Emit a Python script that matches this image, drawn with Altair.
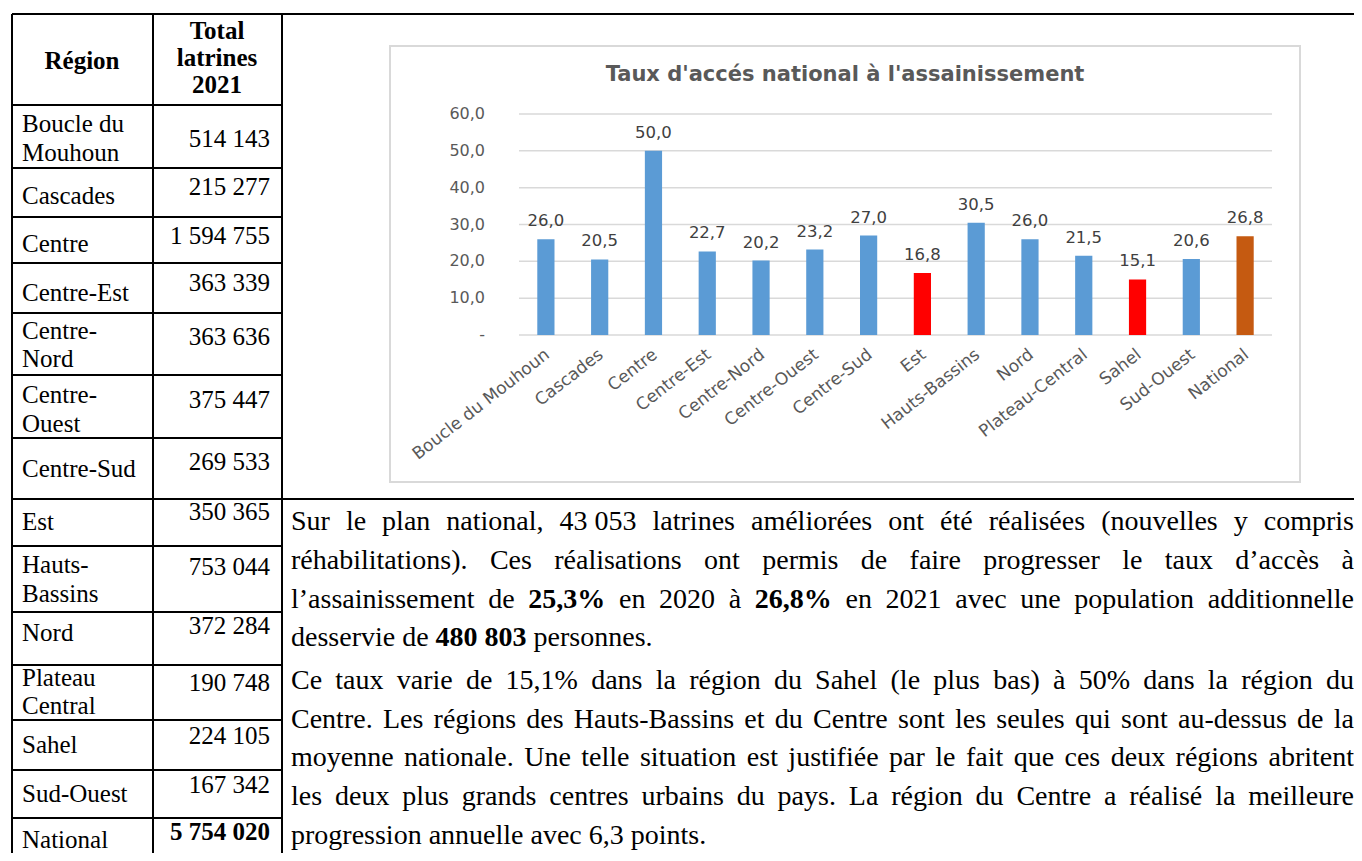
import altair as alt
import pandas as pd

# ------------------------------------------------------------------ data
regions = ["Boucle du Mouhoun", "Cascades", "Centre", "Centre-Est", "Centre-Nord",
           "Centre-Ouest", "Centre-Sud", "Est", "Hauts-Bassins", "Nord",
           "Plateau-Central", "Sahel", "Sud-Ouest", "National"]
taux = [26.0, 20.5, 50.0, 22.7, 20.2, 23.2, 27.0, 16.8, 30.5, 26.0, 21.5, 15.1, 20.6, 26.8]
groupe = ["Région", "Région", "Région", "Région", "Région", "Région", "Région",
          "Faible", "Région", "Région", "Région", "Faible", "Région", "National"]
y_ticks = [0, 10, 20, 30, 40, 50, 60]
y_tick_labels = ["-", "10,0", "20,0", "30,0", "40,0", "50,0", "60,0"]
chart_title = "Taux d'accés national à l'assainissement"

header_region = "Région"
header_total = ["Total", "latrines", "2021"]
table_regions = [["Boucle du", "Mouhoun"], ["Cascades"], ["Centre"], ["Centre-Est"],
                 ["Centre-", "Nord"], ["Centre-", "Ouest"], ["Centre-Sud"], ["Est"],
                 ["Hauts-", "Bassins"], ["Nord"], ["Plateau", "Central"], ["Sahel"],
                 ["Sud-Ouest"], ["National"]]
table_totals = ["514 143", "215 277", "1 594 755", "363 339", "363 636", "375 447",
                "269 533", "350 365", "753 044", "372 284", "190 748", "224 105",
                "167 342", "5 754 020"]
total_bold = [False] * 13 + [True]

# paragraph: list of lines, each a list of (text, bold); flag = justified line
paragraph = [
    ([("Sur le plan national, 43\u00a0053 latrines améliorées ont été réalisées (nouvelles y compris", False)], True),
    ([("réhabilitations). Ces réalisations ont permis de faire progresser le taux d’accès à", False)], True),
    ([("l’assainissement de ", False), ("25,3%", True), (" en 2020 à ", False), ("26,8%", True),
      (" en 2021 avec une population additionnelle", False)], True),
    ([("desservie de ", False), ("480\u00a0803", True), (" personnes.", False)], False),
    ([("Ce taux varie de 15,1% dans la région du Sahel (le plus bas) à 50% dans la région du", False)], True),
    ([("Centre. Les régions des Hauts-Bassins et du Centre sont les seules qui sont au-dessus de la", False)], True),
    ([("moyenne nationale. Une telle situation est justifiée par le fait que ces deux régions abritent", False)], True),
    ([("les deux plus grands centres urbains du pays. La région du Centre a réalisé la meilleure", False)], True),
    ([("progression annuelle avec 6,3 points.", False)], False),
]

# ------------------------------------------------------------------ layout
M = 8  # page margin


def c(v):
    return v - M


W, H = 1346, 845
row_lines_y = [105, 168, 217, 263, 313, 375, 438, 499, 546, 612, 665, 720, 770, 818]
name_y = [[124, 153], [196], [244], [293], [331, 359], [395, 424], [469], [522],
          [565, 594], [633], [678, 706], [745], [794], [840]]
total_y = [139, 187, 236, 283, 337, 400, 462, 512, 567, 626, 683, 736, 785, 832]
para_y = [522, 561, 600, 638, 681, 720, 758, 797, 836]
PARA_X0, PARA_X1 = c(291), W
PARA_SIZE = 28
TABLE_SIZE = 25

# Times metrics (per 1000 em)
TIMES = {' ': 250, '\u00a0': 250, '%': 833, '(': 333, ')': 333, ',': 250, '-': 333, '.': 250,
         '’': 333, "'": 180}
for d in "0123456789":
    TIMES[d] = 500
TIMES.update({'A': 722, 'B': 667, 'C': 667, 'D': 722, 'E': 611, 'H': 722, 'L': 611, 'N': 722,
              'O': 722, 'S': 556, 'U': 722})
low = dict(a=444, b=500, c=444, d=500, e=444, f=333, g=500, h=500, i=278, j=278, k=500, l=278,
           m=778, n=500, o=500, p=500, q=500, r=333, s=389, t=278, u=500, v=500, w=722, x=500,
           y=500, z=444)
TIMES.update(low)
TIMES.update({'é': 444, 'è': 444, 'à': 444, 'ê': 444, 'ç': 444})
TIMES_B = dict(TIMES)
TIMES_B.update({'%': 1000})


def tw(s, bold, size):
    tab = TIMES_B if bold else TIMES
    return sum(tab.get(ch, 500) for ch in s) / 1000.0 * size


words = []
for (segs, justify), yy in zip(paragraph, para_y):
    toks = []
    for text, b in segs:
        for t in text.split(" "):
            if t:
                toks.append((t, b))
    widths = [tw(t, b, PARA_SIZE) for t, b in toks]
    space = tw(" ", False, PARA_SIZE)
    if justify and len(toks) > 1:
        gap = (PARA_X1 - PARA_X0 - sum(widths)) / (len(toks) - 1)
    else:
        gap = space
    x = PARA_X0
    for (t, b), w in zip(toks, widths):
        words.append({"px": x, "py": c(yy), "word": t, "bold": b})
        x += w + gap
words_df = pd.DataFrame(words)

# table lines
lines = []
for yy in row_lines_y:
    full = yy == 499
    lines.append({"x": c(12), "x2": W if full else c(282), "y": c(yy), "y2": c(yy)})
lines.append({"x": c(12), "x2": W, "y": c(14), "y2": c(14)})
for xx in [12, 153, 282]:
    lines.append({"x": c(xx), "x2": c(xx), "y": c(14), "y2": H})
lines_df = pd.DataFrame(lines)

names = []
for parts, ys in zip(table_regions, name_y):
    for p, yy in zip(parts, ys):
        names.append({"px": c(22), "py": c(yy), "t": p})
names_df = pd.DataFrame(names)
totals_df = pd.DataFrame({"px": [c(270)] * len(table_totals), "py": [c(v) for v in total_y],
                          "t": table_totals, "bold": total_bold})
header_df = pd.DataFrame({"px": [c(82), c(217), c(217), c(217)],
                          "py": [c(61), c(31), c(58), c(85)],
                          "t": [header_region] + header_total})

# ------------------------------------------------------------------ chart pieces
bars_df = pd.DataFrame({"region": regions, "taux": taux, "groupe": groupe,
                        "lab": [f"{v:.1f}".replace(".", ",") for v in taux]})
ticks_df = pd.DataFrame({"tick": y_ticks, "lab": y_tick_labels})

xs = alt.Scale(range=[c(519), c(1272)], paddingInner=0.68, paddingOuter=0.34)
ys = alt.Scale(domain=[0, 60], range=[c(335), c(114)])
X = alt.X("region:N", sort=regions, scale=xs, axis=None)
Y = alt.Y("taux:Q", scale=ys, axis=None)

AX_FONT = "DejaVu Sans"
GRAY = "#595959"

px = alt.X("px:Q", scale=None)
py = alt.Y("py:Q", scale=None)

frame = alt.Chart(pd.DataFrame({"k": [0]})).mark_rect(
    fill="white", stroke="#D9D9D9", strokeWidth=2
).encode(x=alt.value(c(390)), x2=alt.value(c(1300)), y=alt.value(c(46)), y2=alt.value(c(482)))

grid = alt.Chart(ticks_df).mark_rule(color="#D9D9D9", strokeWidth=1.5).encode(
    y=alt.Y("tick:Q", scale=ys, axis=None), x=alt.value(c(519)), x2=alt.value(c(1272)))

ylabels = alt.Chart(ticks_df).mark_text(
    align="right", baseline="middle", font=AX_FONT, fontSize=16, color=GRAY
).encode(y=alt.Y("tick:Q", scale=ys, axis=None), x=alt.value(c(485)), text="lab:N")

bars = alt.Chart(bars_df).mark_bar().encode(
    x=X, y=Y,
    color=alt.Color("groupe:N", scale=alt.Scale(domain=["Région", "Faible", "National"],
                                                range=["#5B9BD5", "#FF0000", "#C55A11"]),
                    legend=None))

vlabels = alt.Chart(bars_df).mark_text(
    baseline="middle", dy=-18, font=AX_FONT, fontSize=16.5, color="#404040"
).encode(x=X, y=Y, text="lab:N")

xlabels = alt.Chart(bars_df).mark_text(
    align="right", baseline="middle", angle=322, font=AX_FONT, fontSize=17, color=GRAY, dx=2
).encode(x=X, y=alt.value(c(354)), text="region:N")

title = alt.Chart(pd.DataFrame({"t": [chart_title]})).mark_text(
    baseline="middle", font=AX_FONT, fontSize=21, fontWeight="bold", color=GRAY
).encode(x=alt.value(c(845)), y=alt.value(c(75)), text="t:N")

# table
rules = alt.Chart(lines_df).mark_rule(color="black", strokeWidth=2).encode(
    x=alt.X("x:Q", scale=None), x2="x2:Q", y=alt.Y("y:Q", scale=None), y2="y2:Q")
SERIF = "Liberation Serif"
header = alt.Chart(header_df).mark_text(
    align="center", baseline="middle", font=SERIF, fontSize=TABLE_SIZE, fontWeight="bold",
    color="black").encode(x=px, y=py, text="t:N")
names_t = alt.Chart(names_df).mark_text(
    align="left", baseline="middle", font=SERIF, fontSize=TABLE_SIZE, color="black"
).encode(x=px, y=py, text="t:N")
totals_n = alt.Chart(totals_df[~totals_df["bold"]]).mark_text(
    align="right", baseline="middle", font=SERIF, fontSize=TABLE_SIZE, color="black"
).encode(x=px, y=py, text="t:N")
totals_b = alt.Chart(totals_df[totals_df["bold"]]).mark_text(
    align="right", baseline="middle", font=SERIF, fontSize=TABLE_SIZE, fontWeight="bold",
    color="black").encode(x=px, y=py, text="t:N")

# paragraph
para_n = alt.Chart(words_df[~words_df["bold"]]).mark_text(
    align="left", baseline="middle", font=SERIF, fontSize=PARA_SIZE, color="black"
).encode(x=px, y=py, text="word:N")
para_b = alt.Chart(words_df[words_df["bold"]]).mark_text(
    align="left", baseline="middle", font=SERIF, fontSize=PARA_SIZE, fontWeight="bold",
    color="black").encode(x=px, y=py, text="word:N")

chart = alt.layer(
    frame, grid, ylabels, bars, vlabels, xlabels, title,
    rules, header, names_t, totals_n, totals_b, para_n, para_b
).resolve_scale(x="independent", y="independent", color="independent").properties(
    width=W, height=H, autosize=alt.AutoSizeParams(type="none"), padding=0
).configure_view(stroke=None)

chart.save("out.html", embed_options={"renderer": "svg", "actions": False})
